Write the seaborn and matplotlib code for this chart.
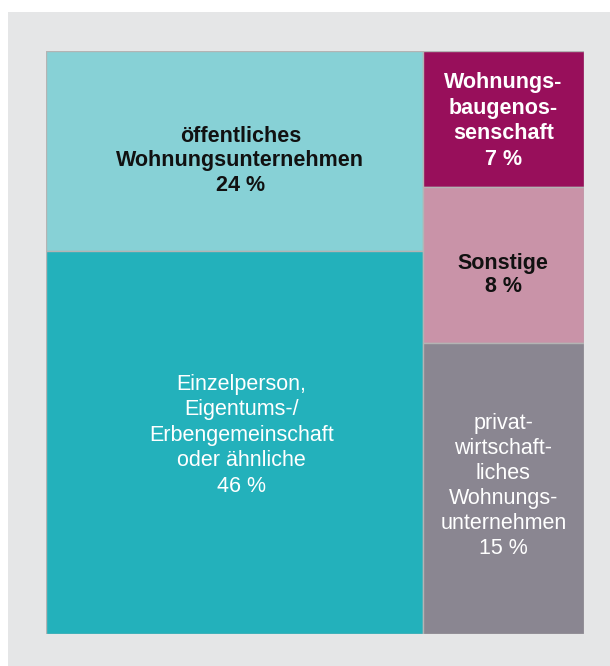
import matplotlib
matplotlib.use("Agg")
import matplotlib.pyplot as plt
from matplotlib.patches import Rectangle
from matplotlib.transforms import offset_copy
import seaborn as sns

# data: owner groups and their share (percent)
labels = [
    "öffentliches\nWohnungsunternehmen",
    "Einzelperson,\nEigentums-/\nErbengemeinschaft\noder ähnliche",
    "Wohnungs-\nbaugenos-\nsenschaft",
    "Sonstige",
    "privat-\nwirtschaft-\nliches\nWohnungs-\nunternehmen",
]
shares = [24, 46, 7, 8, 15]
columns = [0, 0, 1, 1, 1]

colors = ["#87d1d6", "#23b1bb", "#980f5b", "#c993a8", "#8a8691"]
text_colors = ["#111111", "white", "white", "#111111", "white"]
bold = [True, False, True, True, False]
# small label nudges in pixels (right, down)
nudge_x = [6, 7, 0, 0, 0]
nudge_y = [10, -7, 2, 10, -2]
spacing = [1.2, 1.28, 1.3, 1.12, 1.25]

sns.set_theme(style="white")
plt.rcParams["font.family"] = ["Liberation Sans", "DejaVu Sans"]

W, H = 610, 666
fig = plt.figure(figsize=(W / 100, H / 100), dpi=100)
fig.patch.set_facecolor("white")
# light gray panel behind the chart
fig.patches.append(Rectangle((8 / W, 0), 1, (H - 12) / H, transform=fig.transFigure,
                             facecolor="#e5e6e7", edgecolor="none", zorder=-10))

ax = fig.add_axes([46 / W, 32 / H, 538 / W, 583 / H])
ax.set_zorder(5)
ax.set_xlim(0, 100)
ax.set_ylim(100, 0)
ax.axis("off")

total = sum(shares)
col_sums = {}
for c, s in zip(columns, shares):
    col_sums[c] = col_sums.get(c, 0) + s

# simple column treemap: each column width ~ its sum, blocks stacked top to bottom
x0 = 0
col_x = {}
for c in sorted(col_sums):
    col_x[c] = (x0, col_sums[c] / total * 100)
    x0 += col_sums[c] / total * 100

y_pos = {c: 0 for c in col_sums}
for i, (lab, s, c) in enumerate(zip(labels, shares, columns)):
    cx, cw = col_x[c]
    h = s / col_sums[c] * 100
    y0 = y_pos[c]
    ax.bar(cx, h, width=cw, bottom=y0, align="edge", color=colors[i],
           edgecolor="#b4b4b4", linewidth=1)
    tr = offset_copy(ax.transData, fig=fig, x=nudge_x[i], y=-nudge_y[i], units="dots")
    ax.text(cx + cw / 2, y0 + h / 2, f"{lab}\n{s} %", transform=tr,
            ha="center", va="center", multialignment="center",
            color=text_colors[i], fontsize=15.5,
            fontweight="bold" if bold[i] else "normal", linespacing=spacing[i])
    y_pos[c] = y0 + h

fig.savefig("out.png", dpi=100)
